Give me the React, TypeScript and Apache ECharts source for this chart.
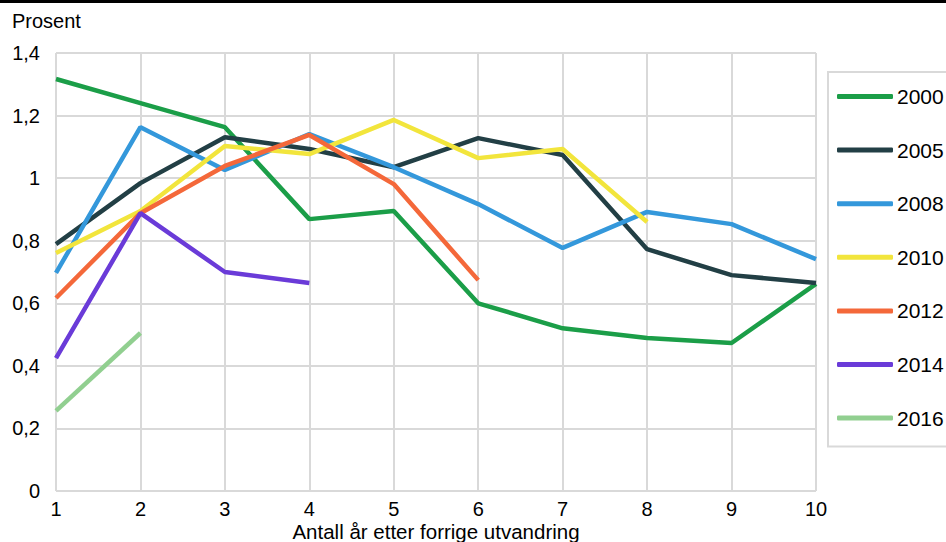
import React, { useEffect, useRef } from "react";
import * as echarts from "echarts";

const years = ["2000", "2005", "2008", "2010", "2012", "2014", "2016"];
const xValues = [1, 2, 3, 4, 5, 6, 7, 8, 9, 10];
const s2000 = [1.317, 1.24, 1.163, 0.869, 0.895, 0.6, 0.52, 0.489, 0.473, 0.662];
const s2005 = [0.789, 0.984, 1.131, 1.093, 1.035, 1.128, 1.074, 0.773, 0.69, 0.665];
const s2008 = [0.697, 1.163, 1.026, 1.141, 1.035, 0.917, 0.777, 0.892, 0.853, 0.741];
const s2010 = [0.761, 0.895, 1.103, 1.077, 1.186, 1.064, 1.093, 0.86];
const s2012 = [0.617, 0.888, 1.039, 1.138, 0.981, 0.674];
const s2014 = [0.425, 0.888, 0.7, 0.665];
const s2016 = [0.256, 0.505];
const seriesValues = [s2000, s2005, s2008, s2010, s2012, s2014, s2016];
const colors = ["#1b9e48", "#223f45", "#3498db", "#f2e53c", "#f4683a", "#6a3bd8", "#91cf90"];
const xAxisTitle = "Antall år etter forrige utvandring";
const yAxisTitle = "Prosent";

const fontFamily = "'Liberation Sans', Arial, sans-serif";

export default function App() {
  const ref = useRef<HTMLDivElement>(null);
  useEffect(() => {
    if (!ref.current) return;
    const chart = echarts.init(ref.current, null, { renderer: "svg" });
    chart.setOption({
      animation: false,
      textStyle: { fontFamily },
      graphic: [
        { type: "rect", shape: { x: 0, y: 0, width: 946, height: 3 }, style: { fill: "#000" } },
        {
          type: "text",
          left: 12,
          top: 11,
          style: { text: yAxisTitle, fontSize: 20, fill: "#000", fontFamily },
        },
        {
          type: "text",
          x: 436,
          y: 531,
          style: {
            text: xAxisTitle,
            fontSize: 20.5,
            lineHeight: 20,
            fill: "#000",
            fontFamily,
            align: "center",
            verticalAlign: "middle",
          },
        },
      ],
      grid: { left: 56, right: 130, top: 53, bottom: 51, outerBoundsMode: "none", containLabel: false },
      legend: {
        orient: "vertical",
        left: 828,
        top: 72,
        padding: [14, 20, 18, 9],
        borderColor: "#d9d9d9",
        borderWidth: 2,
        itemWidth: 56,
        itemHeight: 5,
        itemGap: 32.6,
        icon: "roundRect",
        textStyle: { fontSize: 21, color: "#000", lineHeight: 20, padding: [0, 0, 0, -1] },
        data: years,
      },
      xAxis: {
        type: "value",
        min: 1,
        max: 10,
        interval: 1,
        axisLine: { show: false },
        axisTick: { show: false },
        axisLabel: { fontSize: 20, lineHeight: 19, color: "#000", margin: 8 },
        splitLine: { show: true, lineStyle: { color: "#d9d9d9", width: 2 } },
      },
      yAxis: {
        type: "value",
        min: 0,
        max: 1.4,
        interval: 0.2,
        axisLine: { show: false },
        axisTick: { show: false },
        axisLabel: {
          fontSize: 20,
          color: "#000",
          margin: 16,
          formatter: (v: number) => String(+v.toFixed(1)).replace(".", ","),
        },
        splitLine: { show: true, lineStyle: { color: "#d9d9d9", width: 2 } },
      },
      series: years.map((y, i) => ({
        name: y,
        type: "line",
        symbol: "none",
        color: colors[i],
        lineStyle: { width: 4.5, color: colors[i] },
        itemStyle: { color: colors[i] },
        data: seriesValues[i].map((v, j) => [xValues[j], v]),
      })),
    });
    return () => chart.dispose();
  }, []);
  return <div ref={ref} style={{ position: "absolute", left: 0, top: 0, width: 946, height: 542 }} />;
}
